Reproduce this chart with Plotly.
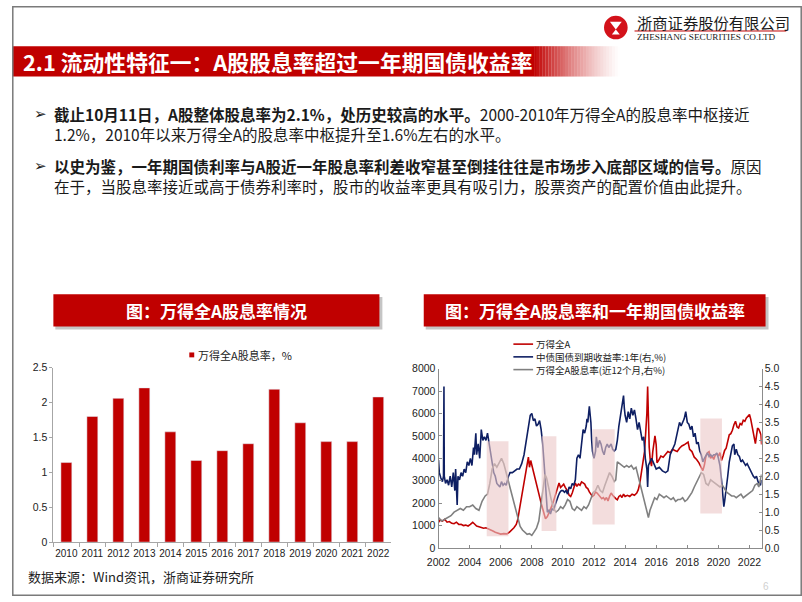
import plotly.graph_objects as go

W, H = 802, 602


def px(x):
    return x / W


def py(y):
    return 1 - y / H


# ---------------- data ----------------
years = ["2010", "2011", "2012", "2013", "2014", "2015", "2016",
         "2017", "2018", "2019", "2020", "2021", "2022"]
div_yield = [1.14, 1.80, 2.06, 2.21, 1.58, 1.17, 1.31, 1.41, 2.19, 1.71, 1.44, 1.44, 2.08]

# Wind All A index (left axis)
index_t = [2002.0, 2002.1, 2002.25, 2002.4, 2002.55, 2002.7, 2002.85, 2003.0, 2003.15, 2003.3,
           2003.45, 2003.6, 2003.75, 2003.9, 2004.05, 2004.2, 2004.3, 2004.45, 2004.6, 2004.75,
           2004.9, 2005.05, 2005.2, 2005.35, 2005.5, 2005.65, 2005.8, 2006.0, 2006.2, 2006.4,
           2006.55, 2006.7, 2006.85, 2007.0, 2007.1, 2007.2, 2007.3, 2007.4, 2007.5, 2007.6,
           2007.7, 2007.78, 2007.85, 2007.93, 2008.0, 2008.1, 2008.2, 2008.3, 2008.4, 2008.5,
           2008.6, 2008.7, 2008.8, 2008.88, 2009.0, 2009.1, 2009.2, 2009.3, 2009.4, 2009.5,
           2009.6, 2009.68, 2009.75, 2009.85, 2009.95, 2010.05, 2010.15, 2010.3, 2010.4, 2010.5,
           2010.6, 2010.7, 2010.8, 2010.9, 2011.0, 2011.1, 2011.2, 2011.3, 2011.4, 2011.5,
           2011.6, 2011.7, 2011.8, 2011.9, 2012.0, 2012.1, 2012.2, 2012.3, 2012.4, 2012.5,
           2012.6, 2012.7, 2012.8, 2012.9, 2013.0, 2013.1, 2013.2, 2013.3, 2013.4, 2013.5,
           2013.6, 2013.7, 2013.8, 2013.9, 2014.0, 2014.15, 2014.3, 2014.45, 2014.6, 2014.75,
           2014.85, 2014.95, 2015.05, 2015.15, 2015.25, 2015.33, 2015.4, 2015.45, 2015.5, 2015.55,
           2015.62, 2015.7, 2015.78, 2015.85, 2015.92, 2016.0, 2016.05, 2016.15, 2016.3, 2016.45,
           2016.6, 2016.75, 2016.9, 2017.05, 2017.2, 2017.35, 2017.5, 2017.65, 2017.8, 2017.95,
           2018.05, 2018.15, 2018.3, 2018.45, 2018.6, 2018.75, 2018.9, 2019.0, 2019.1, 2019.2,
           2019.3, 2019.4, 2019.5, 2019.6, 2019.7, 2019.8, 2019.9, 2020.0, 2020.1, 2020.2,
           2020.3, 2020.4, 2020.5, 2020.6, 2020.7, 2020.8, 2020.9, 2021.0, 2021.1, 2021.2,
           2021.3, 2021.4, 2021.5, 2021.6, 2021.7, 2021.8, 2021.9, 2022.0, 2022.08, 2022.15,
           2022.22, 2022.3, 2022.38, 2022.45, 2022.52, 2022.6, 2022.68, 2022.74, 2022.78]
index_v = [1150, 1250, 1200, 1280, 1150, 1180, 1100, 1080, 1150, 1050,
           1060, 1000, 1020, 980, 1050, 1140, 1080, 980, 950, 920,
           880, 900, 860, 800, 760, 700, 650, 620, 640, 630,
           700, 800, 900, 1050, 1280, 1700, 2100, 2600, 3000, 3400,
           3800, 4050, 3600, 3900, 3700, 3400, 3100, 2900, 2600, 2300,
           2000, 1750, 1500, 1300, 1400, 1600, 1750, 1900, 2100, 2300,
           2600, 2750, 2900, 2700, 2800, 2850, 2700, 2550, 2350, 2300,
           2450, 2700, 2900, 2750, 2850, 2800, 2950, 2900, 2850, 2700,
           2650, 2500, 2400, 2300, 2350, 2500, 2450, 2350, 2300, 2200,
           2250, 2150, 2250, 2100, 2300, 2450, 2350, 2250, 2200, 2150,
           2300, 2350, 2250, 2400, 2300, 2350, 2300, 2400, 2350, 2450,
           2600, 2900, 3400, 3800, 4300, 5200, 6000, 7200, 5600, 4500,
           3900, 3650, 4300, 4700, 5000, 4600, 3800, 3900, 4100, 4050,
           4200, 4300, 4250, 4400, 4350, 4300, 4450, 4550, 4600, 4680,
           4720, 4400, 4300, 4050, 3950, 3800, 3600, 3450, 3700, 4100,
           4250, 4300, 4000, 4100, 3950, 4150, 4200, 4100, 4250, 3900,
           4100, 4350, 4450, 4700, 5050, 5100, 5250, 5500, 5650, 5400,
           5350, 5550, 5500, 5700, 5650, 5800, 5880, 5950, 5750, 5500,
           5200, 4850, 4650, 5000, 5350, 5300, 5150, 5050, 4620]

# 1-year government bond yield (right axis, %)
bond_t = [2002.0, 2002.05, 2002.15, 2002.25, 2002.32, 2002.35, 2002.37, 2002.45, 2002.55, 2002.65,
          2002.75, 2002.85, 2002.95, 2003.05, 2003.1, 2003.2, 2003.25, 2003.35, 2003.45, 2003.55,
          2003.65, 2003.75, 2003.85, 2003.95, 2004.05, 2004.15, 2004.25, 2004.3, 2004.4, 2004.45,
          2004.55, 2004.65, 2004.75, 2004.85, 2004.95, 2005.05, 2005.15, 2005.25, 2005.35, 2005.45,
          2005.55, 2005.65, 2005.75, 2005.85, 2005.95, 2006.05, 2006.15, 2006.25, 2006.35, 2006.5,
          2006.6, 2006.75, 2006.9, 2007.05, 2007.2, 2007.35, 2007.5, 2007.6, 2007.7, 2007.8,
          2007.9, 2008.0, 2008.1, 2008.2, 2008.3, 2008.4, 2008.5, 2008.6, 2008.7, 2008.8,
          2008.85, 2008.9, 2009.0, 2009.1, 2009.2, 2009.3, 2009.4, 2009.5, 2009.6, 2009.7,
          2009.8, 2009.9, 2010.0, 2010.1, 2010.2, 2010.3, 2010.4, 2010.5, 2010.6, 2010.7,
          2010.8, 2010.9, 2011.0, 2011.1, 2011.2, 2011.3, 2011.4, 2011.5, 2011.55, 2011.6,
          2011.7, 2011.8, 2011.85, 2011.9, 2012.0, 2012.1, 2012.15, 2012.25, 2012.35, 2012.45,
          2012.55, 2012.65, 2012.75, 2012.85, 2012.95, 2013.1, 2013.2, 2013.3, 2013.4, 2013.5,
          2013.6, 2013.7, 2013.8, 2013.85, 2013.9, 2013.95, 2014.0, 2014.1, 2014.2, 2014.3,
          2014.4, 2014.5, 2014.6, 2014.7, 2014.8, 2014.9, 2015.0, 2015.1, 2015.2, 2015.3,
          2015.4, 2015.45, 2015.5, 2015.6, 2015.7, 2015.8, 2015.9, 2016.0, 2016.2, 2016.4,
          2016.6, 2016.75, 2016.9, 2017.0, 2017.2, 2017.35, 2017.5, 2017.6, 2017.7, 2017.8,
          2017.9, 2018.0, 2018.1, 2018.2, 2018.3, 2018.4, 2018.5, 2018.6, 2018.7, 2018.8,
          2018.9, 2019.0, 2019.1, 2019.2, 2019.3, 2019.4, 2019.5, 2019.6, 2019.7, 2019.8,
          2019.9, 2020.0, 2020.1, 2020.2, 2020.3, 2020.35, 2020.4, 2020.5, 2020.6, 2020.7,
          2020.8, 2020.9, 2021.0, 2021.05, 2021.15, 2021.25, 2021.35, 2021.45, 2021.55, 2021.65,
          2021.75, 2021.85, 2021.95, 2022.05, 2022.15, 2022.25, 2022.35, 2022.45, 2022.55, 2022.65,
          2022.72, 2022.78]
bond_v = [2.45, 2.1, 1.95, 1.85, 2.0, 4.5, 2.0, 1.8, 1.9, 1.75,
          2.0, 1.7, 2.1, 1.6, 2.2, 1.2, 2.0, 1.9, 2.1, 2.0,
          2.2, 2.1, 2.4, 2.3, 2.5, 2.3, 2.8, 2.6, 3.2, 2.6,
          2.9, 2.5, 3.3, 3.0, 3.1, 3.0, 3.2, 2.9, 2.6, 2.4,
          2.1, 2.0, 1.8, 1.75, 1.7, 1.85, 1.75, 1.8, 1.75, 2.0,
          2.1, 2.1, 2.15, 2.2, 2.2, 2.35, 2.6, 2.9, 3.2, 3.4,
          3.7, 3.75, 3.55, 3.6, 3.4, 3.45, 3.55, 3.3, 2.9, 2.3,
          1.9, 1.6, 1.0, 1.05, 0.95, 1.1, 1.05, 1.2, 1.35, 1.45,
          1.55, 1.6, 1.6, 1.55, 1.6, 1.5, 1.7, 1.65, 1.8, 1.75,
          1.9, 2.5, 2.6, 2.5, 2.9, 3.3, 3.2, 3.4, 3.6, 3.5,
          3.95, 3.5, 3.0, 2.7, 2.5, 2.7, 3.1, 2.8, 3.0, 2.9,
          2.7, 2.6, 2.8, 2.9, 2.8, 2.9, 2.75, 2.7, 2.75, 3.0,
          3.4, 3.7, 3.9, 4.1, 4.25, 3.9, 3.7, 3.5, 3.8, 3.6,
          3.9, 3.7, 3.85, 3.6, 3.3, 3.5, 3.2, 3.0, 3.1, 2.5,
          2.2, 1.7, 2.3, 2.4, 2.5, 2.4, 2.3, 2.2, 2.25, 2.15,
          2.1, 2.15, 2.6, 2.7, 2.9, 3.2, 3.5, 3.4, 3.5, 3.6,
          3.8, 3.5, 3.45, 3.3, 3.4, 3.1, 3.2, 2.9, 2.95, 2.7,
          2.6, 2.4, 2.5, 2.6, 2.65, 2.55, 2.6, 2.55, 2.6, 2.6,
          2.65, 2.5, 2.3, 1.9, 1.4, 1.15, 1.3, 1.6, 2.0, 2.4,
          2.6, 2.85, 2.9, 2.6, 2.75, 2.6, 2.55, 2.4, 2.45, 2.35,
          2.3, 2.35, 2.25, 2.2, 2.05, 2.0, 1.95, 2.0, 1.85, 1.8,
          1.75, 1.9]

# Wind All A dividend yield, trailing 12M (right axis, %)
dy_t = [2002.0, 2002.2, 2002.4, 2002.6, 2002.8, 2003.0, 2003.2, 2003.4, 2003.6, 2003.8,
        2004.0, 2004.2, 2004.4, 2004.6, 2004.8, 2005.0, 2005.15, 2005.3, 2005.45, 2005.6,
        2005.75, 2005.9, 2006.05, 2006.2, 2006.35, 2006.5, 2006.65, 2006.8, 2006.95, 2007.1,
        2007.25, 2007.4, 2007.55, 2007.7, 2007.85, 2008.0, 2008.15, 2008.3, 2008.45, 2008.6,
        2008.75, 2008.85, 2008.95, 2009.1, 2009.25, 2009.4, 2009.55, 2009.7, 2009.85, 2010.0,
        2010.15, 2010.3, 2010.45, 2010.6, 2010.75, 2010.9, 2011.05, 2011.2, 2011.35, 2011.5,
        2011.65, 2011.8, 2011.95, 2012.1, 2012.25, 2012.4, 2012.55, 2012.7, 2012.85, 2013.0,
        2013.15, 2013.3, 2013.4, 2013.5, 2013.65, 2013.8, 2013.95, 2014.1, 2014.25, 2014.4,
        2014.55, 2014.7, 2014.85, 2015.0, 2015.15, 2015.3, 2015.4, 2015.5, 2015.6, 2015.75,
        2015.9, 2016.05, 2016.2, 2016.35, 2016.5, 2016.65, 2016.8, 2016.95, 2017.1, 2017.25,
        2017.4, 2017.55, 2017.7, 2017.85, 2018.0, 2018.15, 2018.3, 2018.45, 2018.6, 2018.75,
        2018.9, 2019.05, 2019.2, 2019.35, 2019.5, 2019.65, 2019.8, 2019.95, 2020.1, 2020.25,
        2020.4, 2020.55, 2020.7, 2020.85, 2021.0, 2021.15, 2021.3, 2021.45, 2021.6, 2021.75,
        2021.9, 2022.05, 2022.2, 2022.35, 2022.5, 2022.6, 2022.7, 2022.78]
dy_v = [0.85, 0.75, 0.8, 0.85, 0.9, 1.0, 1.05, 1.1, 1.05, 1.15,
        1.15, 1.2, 1.1, 1.05, 1.3, 1.45, 1.5, 1.8, 2.2, 2.35,
        2.25, 2.4, 2.5, 2.35, 2.1, 1.85, 1.6, 1.35, 1.1, 0.8,
        0.6, 0.5, 0.45, 0.38, 0.4, 0.35, 0.45, 0.55, 0.75, 1.2,
        1.7, 2.05, 1.95, 1.6, 1.35, 1.1, 1.0, 1.05, 1.15, 1.1,
        1.2, 1.35, 1.3, 1.1, 1.05, 1.15, 1.1, 1.05, 1.15, 1.1,
        1.2, 1.4, 1.55, 1.6, 1.75, 1.6, 1.55, 1.75, 1.9, 2.1,
        2.0, 1.85, 1.9, 2.4, 2.35, 2.3, 2.25, 2.3, 2.25, 2.3,
        2.2, 2.25, 2.0, 1.75, 1.5, 1.2, 1.0, 0.85, 1.05, 1.25,
        1.4, 1.35, 1.5, 1.45, 1.4, 1.45, 1.4, 1.35, 1.4, 1.3,
        1.35, 1.35, 1.4, 1.3, 1.35, 1.45, 1.55, 1.7, 1.85, 1.95,
        2.1, 2.05, 1.8, 1.75, 1.9, 1.85, 1.8, 1.75, 1.7, 1.75,
        1.65, 1.55, 1.5, 1.45, 1.45, 1.4, 1.45, 1.5, 1.4, 1.45,
        1.5, 1.55, 1.6, 1.75, 1.8, 1.7, 1.9, 2.05]

# highlighted periods (x in years, y in index points)
shade_start = [2005.1, 2008.63, 2011.9, 2018.84]
shade_end = [2006.5, 2009.58, 2013.33, 2020.23]
shade_low = [525, 757, 1050, 1543]
shade_high = [4765, 4984, 5300, 5770]

x_ticks = list(range(2002, 2023, 2))

RED = "#C00000"
NAVY = "#0E1F63"
GREY = "#808080"
CJK = "Noto Sans CJK SC, Microsoft YaHei, sans-serif"
NUM = "Arial, Liberation Sans, sans-serif"

fig = go.Figure()

fig.add_trace(go.Bar(x=years, y=div_yield, marker_color=RED, width=0.42,
                     xaxis="x", yaxis="y", showlegend=False))
fig.add_trace(go.Scatter(x=index_t, y=index_v, mode="lines", line=dict(color=RED, width=1.6),
                         xaxis="x2", yaxis="y2", showlegend=False))
fig.add_trace(go.Scatter(x=bond_t, y=bond_v, mode="lines", line=dict(color=NAVY, width=1.6),
                         xaxis="x2", yaxis="y3", showlegend=False))
fig.add_trace(go.Scatter(x=dy_t, y=dy_v, mode="lines", line=dict(color=GREY, width=1.6),
                         xaxis="x2", yaxis="y3", showlegend=False))

shapes = []
annotations = []

# slide border
shapes.append(dict(type="rect", xref="paper", yref="paper", x0=px(0.8), x1=px(801.2), y0=py(601.2), y1=py(0.8),
                   line=dict(color="#7A7A7A", width=1.5), fillcolor="rgba(0,0,0,0)", layer="above"))

# header bar with gradient
shapes.append(dict(type="rect", xref="paper", yref="paper", x0=0, x1=px(530), y0=py(72), y1=py(41),
                   line=dict(width=0), fillcolor=RED, layer="below"))
n_steps = 30
g0, g1 = 530, 618
for i in range(n_steps):
    a = 1 - (i + 0.5) / n_steps
    shapes.append(dict(type="rect", xref="paper", yref="paper",
                       x0=px(g0 + (g1 - g0) * i / n_steps), x1=px(g0 + (g1 - g0) * (i + 1) / n_steps),
                       y0=py(72), y1=py(41), line=dict(width=0),
                       fillcolor="rgba(192,0,0,%.3f)" % (a ** 1.3), layer="below"))
annotations.append(dict(xref="paper", yref="paper", x=px(9), y=py(57), xanchor="left", yanchor="middle",
                        text="<b>2.1 流动性特征一：A股股息率超过一年期国债收益率</b>", showarrow=False,
                        font=dict(family=CJK, size=21.8, color="white")))

# logo
shapes.append(dict(type="circle", xref="paper", yref="paper", x0=px(601), x1=px(625), y0=py(34), y1=py(10),
                   line=dict(width=0), fillcolor="#D3121A", layer="above"))
shapes.append(dict(type="path", xref="paper", yref="paper",
                   path="M %f %f L %f %f L %f %f Z" % (px(607), py(16), px(619), py(16), px(613), py(24)),
                   line=dict(width=0), fillcolor="white", layer="above"))
shapes.append(dict(type="path", xref="paper", yref="paper",
                   path="M %f %f L %f %f L %f %f Z" % (px(609), py(29), px(617), py(29), px(613), py(24)),
                   line=dict(width=0), fillcolor="white", layer="above"))
shapes.append(dict(type="line", xref="paper", yref="paper", x0=px(632), x1=px(786), y0=py(25.5), y1=py(25.5),
                   line=dict(color="#C00000", width=1)))
annotations.append(dict(xref="paper", yref="paper", x=px(632), y=py(16.5), xanchor="left", yanchor="middle",
                        text="浙商证券股份有限公司", showarrow=False,
                        font=dict(family=CJK, size=15.3, color="#1A1A1A")))
annotations.append(dict(xref="paper", yref="paper", x=px(632), y=py(31.5), xanchor="left", yanchor="middle",
                        text="ZHESHANG SECURITIES CO.LTD", showarrow=False,
                        font=dict(family="Liberation Serif, Times New Roman, serif", size=9.2, color="#1A1A1A")))

# bullets
bul_font = dict(family=CJK, size=15.5, color="#1A1A1A")
for yy in (110, 163):
    annotations.append(dict(xref="paper", yref="paper", x=px(20), y=py(yy), xanchor="left", yanchor="middle",
                            text="➢", showarrow=False,
                            font=dict(family="DejaVu Sans", size=15, color="#1A1A1A")))
bullet_lines = [
    (110, "<b>截止10月11日，A股整体股息率为2.1%，处历史较高的水平。</b>2000-2010年万得全A的股息率中枢接近"),
    (131, "1.2%，2010年以来万得全A的股息率中枢提升至1.6%左右的水平。"),
    (163, "<b>以史为鉴，一年期国债利率与A股近一年股息率利差收窄甚至倒挂往往是市场步入底部区域的信号。</b>原因"),
    (184, "在于，当股息率接近或高于债券利率时，股市的收益率更具有吸引力，股票资产的配置价值由此提升。"),
]
for yy, t in bullet_lines:
    annotations.append(dict(xref="paper", yref="paper", x=px(41), y=py(yy), xanchor="left", yanchor="middle",
                            text=t, showarrow=False, font=bul_font))

# chart title boxes
for (x0, x1, t) in [(42, 373, "<b>图：万得全A股息率情况</b>"),
                    (418, 765, "<b>图：万得全A股息率和一年期国债收益率</b>")]:
    shapes.append(dict(type="rect", xref="paper", yref="paper", x0=px(x0 + 2), x1=px(x1 + 3), y0=py(330),
                       y1=py(297), line=dict(width=0), fillcolor="rgba(90,90,90,0.35)", layer="below"))
    shapes.append(dict(type="rect", xref="paper", yref="paper", x0=px(x0), x1=px(x1), y0=py(327),
                       y1=py(294), line=dict(width=0), fillcolor=RED, layer="below"))
    annotations.append(dict(xref="paper", yref="paper", x=px((x0 + x1) / 2), y=py(310.5), xanchor="center",
                            yanchor="middle", text=t, showarrow=False,
                            font=dict(family=CJK, size=17, color="white")))

# left legend
shapes.append(dict(type="rect", xref="paper", yref="paper", x0=px(180), x1=px(185), y0=py(358.5), y1=py(353.5),
                   line=dict(width=0), fillcolor=RED))
annotations.append(dict(xref="paper", yref="paper", x=px(187), y=py(356), xanchor="left", yanchor="middle",
                        text="万得全A股息率，%", showarrow=False,
                        font=dict(family=CJK, size=11, color="#222")))

# right legend
leg = [(RED, "万得全A", 345), (NAVY, "中债国债到期收益率:1年(右,%)", 358), (GREY, "万得全A股息率(近12个月,右%)", 371)]
for c, t, yy in leg:
    shapes.append(dict(type="line", xref="paper", yref="paper", x0=px(509), x1=px(529), y0=py(yy), y1=py(yy),
                       line=dict(color=c, width=1.6)))
    annotations.append(dict(xref="paper", yref="paper", x=px(531), y=py(yy), xanchor="left", yanchor="middle",
                            text=t, showarrow=False, borderpad=0,
                            font=dict(family=CJK, size=9.5, color="#222")))

# shaded periods
for s, e, lo, hi in zip(shade_start, shade_end, shade_low, shade_high):
    shapes.append(dict(type="rect", xref="x2", yref="y2", x0=s, x1=e, y0=lo, y1=hi,
                       line=dict(width=0), fillcolor="rgba(236,200,200,0.62)", layer="above"))

# footer
annotations.append(dict(xref="paper", yref="paper", x=px(14), y=py(582), xanchor="left", yanchor="middle",
                        text="数据来源：Wind资讯，浙商证券研究所", showarrow=False,
                        font=dict(family=CJK, size=13, color="#222")))
annotations.append(dict(xref="paper", yref="paper", x=px(765), y=py(592), xanchor="center", yanchor="middle",
                        text="6", showarrow=False,
                        font=dict(family=NUM, size=10, color="#D0D0D0")))

tickf = dict(family=NUM, size=10.5, color="#222")
fig.update_layout(
    width=W, height=H, margin=dict(l=0, r=0, t=0, b=0),
    paper_bgcolor="white", plot_bgcolor="rgba(0,0,0,0)",
    showlegend=False, shapes=shapes, annotations=annotations,
    xaxis=dict(domain=[px(42), px(385)], anchor="y", type="category", showline=True,
               linecolor="#A6A6A6", linewidth=1, ticks="outside", ticklen=4, tickcolor="#A6A6A6",
               tickson="boundaries", tickangle=0, ticklabelstandoff=2,
               tickfont=dict(family=NUM, size=10, color="#222"), showgrid=False, fixedrange=True),
    yaxis=dict(domain=[py(547), py(369)], anchor="x", range=[0, 2.5], dtick=0.5, showline=True,
               linecolor="#A6A6A6", linewidth=1, ticks="outside", ticklen=3, tickcolor="#A6A6A6",
               tickfont=tickf, showgrid=False, zeroline=False),
    xaxis2=dict(domain=[px(433), px(761)], anchor="y2", range=[2002, 2022.78], tickvals=x_ticks,
                tickangle=0, ticklabelstandoff=4, showline=True, linecolor="#8C8C8C", linewidth=1,
                ticks="inside", ticklen=3, tickcolor="#8C8C8C", tickfont=tickf, showgrid=False,
                zeroline=False),
    yaxis2=dict(domain=[py(553), py(370)], anchor="x2", range=[0, 8000], dtick=1000, showline=True,
                linecolor="#8C8C8C", linewidth=1, ticks="inside", ticklen=3, tickcolor="#8C8C8C",
                tickfont=tickf, showgrid=False, zeroline=False),
    yaxis3=dict(overlaying="y2", anchor="x2", side="right", range=[0, 5], dtick=0.5, tickformat=".1f",
                showline=True, linecolor="#8C8C8C", linewidth=1, ticks="inside", ticklen=3,
                tickcolor="#8C8C8C", tickfont=tickf, showgrid=False, zeroline=False),
)

fig.write_html("out.html", config={"displayModeBar": False},
               post_script="document.body.style.margin='0';document.body.style.overflow='hidden';")
